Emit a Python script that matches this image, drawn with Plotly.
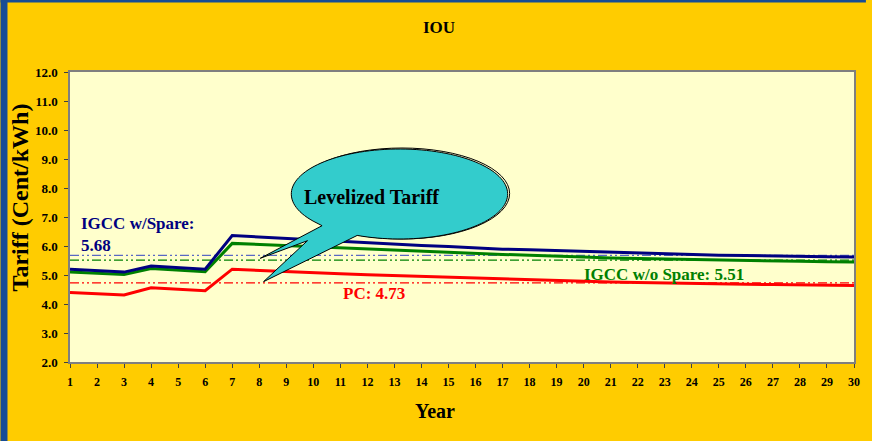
import numpy as np
import plotly.graph_objects as go

years = list(range(1, 31))
igcc_spare = [5.20, 5.15, 5.10, 5.31, 5.26, 5.20, 6.36, 6.31, 6.26, 6.20,
              6.15, 6.10, 6.05, 6.02, 5.98, 5.93, 5.89, 5.87, 5.84, 5.81,
              5.78, 5.75, 5.72, 5.70, 5.68, 5.67, 5.65, 5.64, 5.63, 5.62]
igcc_nospare = [5.10, 5.06, 5.02, 5.22, 5.17, 5.11, 6.09, 6.05, 6.01, 5.97,
                5.93, 5.89, 5.85, 5.82, 5.78, 5.74, 5.71, 5.68, 5.64, 5.62,
                5.59, 5.57, 5.55, 5.53, 5.51, 5.49, 5.48, 5.47, 5.46, 5.45]
pc = [4.40, 4.35, 4.31, 4.56, 4.52, 4.46, 5.20, 5.16, 5.10, 5.07,
      5.04, 5.01, 4.98, 4.95, 4.92, 4.89, 4.86, 4.83, 4.80, 4.78,
      4.76, 4.74, 4.72, 4.71, 4.69, 4.68, 4.67, 4.66, 4.65, 4.64]
lev_spare = 5.68
lev_nospare = 5.51
lev_pc = 4.73

W, H = 872, 441
L, R, T, B = 70, 12, 72, 79
PW, PH = W - L - R, H - T - B

def px(x):
    return (x - L) / PW

def py(y):
    return (H - B - y) / PH

SERIF = "Liberation Serif, Times New Roman, serif"
NAVY = "#000080"
GREEN = "#008000"
RED = "#FF0000"
DASH = "9px,3px,2px,3px,2px,3px"

fig = go.Figure()
for val, col in [(lev_spare, "#5A68C4"), (lev_nospare, GREEN), (lev_pc, RED)]:
    fig.add_trace(go.Scatter(x=[years[0], years[-1]], y=[val, val], mode="lines",
                             line=dict(color=col, width=1.3, dash=DASH),
                             hoverinfo="skip", showlegend=False))
for ys, col in [(pc, RED), (igcc_nospare, GREEN), (igcc_spare, NAVY)]:
    fig.add_trace(go.Scatter(x=years, y=ys, mode="lines",
                             line=dict(color=col, width=3), showlegend=False))

shapes = []
shapes.append(dict(type="rect", xref="paper", yref="paper", layer="below",
                   x0=px(0), x1=px(7), y0=py(H), y1=py(0),
                   fillcolor="#174C95", line=dict(width=0)))
shapes.append(dict(type="rect", xref="paper", yref="paper", layer="below",
                   x0=px(0), x1=px(W), y0=py(2.5), y1=py(0),
                   fillcolor="#174C95", line=dict(width=0)))

cx, cy, rx, ry = 402, 194, 109, 45
shapes.append(dict(type="circle", xref="paper", yref="paper",
                   x0=px(cx - rx + 3), x1=px(cx + rx + 2), y0=py(cy + ry), y1=py(cy - ry - 1),
                   line=dict(color="black", width=1), fillcolor="rgba(0,0,0,0)"))
t1, t2 = np.deg2rad(113), np.deg2rad(143 - 360)
ts = np.linspace(t1, t2, 120)
pts = [(cx + rx * np.cos(t), cy + ry * np.sin(t)) for t in ts]
pts += [(324, 225.7), (261.7, 258.3), (309.3, 240.7), (265, 281.7)]
path = "M " + " L ".join(f"{px(x):.5f},{py(y):.5f}" for x, y in pts) + " Z"
shapes.append(dict(type="path", xref="paper", yref="paper", path=path,
                   fillcolor="#33CCCC", line=dict(color="black", width=1)))

anns = [
    dict(text="<b>IOU</b>", x=px(442), y=py(27), font=dict(size=17, color="black")),
    dict(text="<b>Year</b>", x=px(438), y=py(411), font=dict(size=20, color="black")),
    dict(text="<b>Tariff (Cent/kWh)</b>", x=px(20), y=py(197), textangle=-90,
         font=dict(size=24, color="black")),
    dict(text="<b>Levelized Tariff</b>", x=px(374), y=py(197), font=dict(size=20, color="black")),
    dict(text="<b>IGCC w/Spare:</b>", x=px(79), y=py(223), xanchor="left", font=dict(size=17, color=NAVY)),
    dict(text="<b>5.68</b>", x=px(79), y=py(245), xanchor="left", font=dict(size=17, color=NAVY)),
    dict(text="<b>PC: 4.73</b>", x=px(376), y=py(293), font=dict(size=17, color=RED)),
    dict(text="<b>IGCC w/o Spare: 5.51</b>", x=px(669), y=py(274), font=dict(size=17, color=GREEN)),
]
for a in anns:
    a.update(xref="paper", yref="paper", showarrow=False)
    a.setdefault("xanchor", "center")
    a["yanchor"] = "middle"
    a["font"]["family"] = SERIF

fig.update_layout(
    width=W, height=H,
    margin=dict(l=L, r=R, t=T, b=B),
    paper_bgcolor="#FFCC00", plot_bgcolor="#FFFFCC",
    font=dict(family=SERIF, color="black"),
    shapes=shapes, annotations=anns,
    xaxis=dict(range=[1, 30], tickvals=years, ticktext=[f"<b>{v}</b>" for v in years],
               showgrid=False, zeroline=False, showline=True, mirror=True,
               linecolor="#7F7F7F", linewidth=1.5, ticks="outside", ticklen=4,
               tickcolor="#404040", tickfont=dict(size=12, family=SERIF),
               ticklabelstandoff=4),
    yaxis=dict(range=[2, 12], tickvals=list(range(2, 13)),
               ticktext=[f"<b>{v:.1f}</b>" for v in range(2, 13)],
               showgrid=False, zeroline=False, showline=True, mirror=True,
               linecolor="#7F7F7F", linewidth=1.5, ticks="outside", ticklen=4,
               tickcolor="#404040", tickfont=dict(size=13, family=SERIF),
               ticklabelstandoff=4),
)

fig.write_html("out.html", config={"displayModeBar": False},
               post_script="document.body.style.margin='0';document.body.style.padding='0';")
